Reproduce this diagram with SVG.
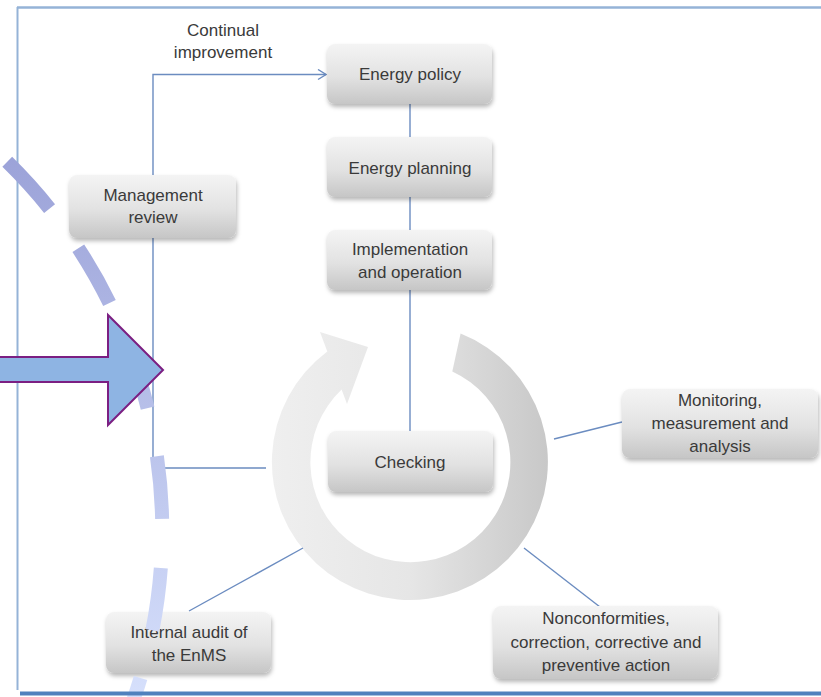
<svg xmlns="http://www.w3.org/2000/svg" width="821" height="697" viewBox="0 0 821 697">
<style>
.box{fill:url(#boxg);filter:url(#sh)}
.t{font-family:"Liberation Sans",Arial,sans-serif;font-size:17px;fill:#3a3a3a;text-anchor:middle}
.c{fill:none;stroke:#6b8cc0;stroke-width:1.4}
</style>
<defs>
<linearGradient id="boxg" x1="0" y1="0" x2="0" y2="1">
<stop offset="0" stop-color="#f4f4f4"/>
<stop offset="0.55" stop-color="#e2e2e2"/>
<stop offset="1" stop-color="#c6c6c6"/>
</linearGradient>
<linearGradient id="ringg" gradientUnits="userSpaceOnUse" x1="272" y1="0" x2="548" y2="0">
<stop offset="0" stop-color="#efefef"/>
<stop offset="0.5" stop-color="#e6e6e6"/>
<stop offset="1" stop-color="#c8c8c8"/>
</linearGradient>
<linearGradient id="dashg" gradientUnits="userSpaceOnUse" x1="0" y1="150" x2="0" y2="697">
<stop offset="0" stop-color="#9ba2d8"/>
<stop offset="1" stop-color="#d6e0fc"/>
</linearGradient>
<filter id="sh" x="-10%" y="-10%" width="125%" height="135%">
<feDropShadow dx="1" dy="3" stdDeviation="2" flood-color="#000" flood-opacity="0.28"/>
</filter>
<marker id="ah" markerWidth="10" markerHeight="12" refX="9" refY="6" orient="auto" markerUnits="userSpaceOnUse">
<polyline points="1,1 9,6 1,11" fill="none" stroke="#6b8cc0" stroke-width="1.4"/>
</marker>
</defs>

<g id="frame">
<line x1="17.5" y1="7" x2="17.5" y2="690" stroke="#95b3d7" stroke-width="2"/>
<line x1="17" y1="7.5" x2="821" y2="7.5" stroke="#95b3d7" stroke-width="2.5"/>
</g>

<g id="cycle">
<path d="M460.6 333.6 A138 138 0 1 1 327.3 351.4 L320 332 L368 347 L347 404 L341.6 389.6 A100 100 0 1 0 452.3 371.4 Z" fill="url(#ringg)"/>
</g>

<g id="connectors">
<path class="c" d="M153 175 V74.5 H326" marker-end="url(#ah)"/>
<path class="c" d="M153 238 V468 H266"/>
<path class="c" d="M410 104 V137"/>
<path class="c" d="M410 197 V230"/>
<path class="c" d="M410 290 V431"/>
<path class="c" d="M189 611 L303 548"/>
<path class="c" d="M554 439 L622 422"/>
<path class="c" d="M524 548 L600 607"/>
</g>

<text class="t" x="223" y="36">Continual</text>
<text class="t" x="223" y="58">improvement</text>

<g id="energy-policy">
<rect class="box" x="327" y="44" width="165" height="60" rx="8"/>
<text class="t" x="410" y="80">Energy policy</text>
</g>
<g id="energy-planning">
<rect class="box" x="327" y="137" width="165" height="60" rx="8"/>
<text class="t" x="410" y="174">Energy planning</text>
</g>
<g id="implementation">
<rect class="box" x="327" y="230" width="165" height="60" rx="8"/>
<text class="t" x="410" y="255">Implementation</text>
<text class="t" x="410" y="278">and operation</text>
</g>
<g id="checking">
<rect class="box" x="328" y="431" width="165" height="61" rx="8"/>
<text class="t" x="410" y="468">Checking</text>
</g>
<g id="management-review">
<rect class="box" x="69" y="175" width="167" height="63" rx="8"/>
<text class="t" x="153" y="201">Management</text>
<text class="t" x="153" y="223">review</text>
</g>
<g id="monitoring">
<rect class="box" x="622" y="389" width="196" height="69" rx="8"/>
<text class="t" x="720" y="406">Monitoring,</text>
<text class="t" x="720" y="429">measurement and</text>
<text class="t" x="720" y="452">analysis</text>
</g>
<g id="nonconformities">
<rect class="box" x="493" y="606" width="225" height="73" rx="8"/>
<text class="t" x="606" y="624">Nonconformities,</text>
<text class="t" x="606" y="648">correction, corrective and</text>
<text class="t" x="606" y="671">preventive action</text>
</g>
<g id="internal-audit">
<rect class="box" x="106" y="612" width="165" height="61" rx="8"/>
<text class="t" x="189" y="638">Internal audit of</text>
<text class="t" x="189" y="661">the EnMS</text>
</g>

<g id="dashed-arc">
<path d="M-80.6 92.8 A515 515 0 0 1 114 747.6" fill="none" stroke="url(#dashg)" stroke-width="14" stroke-dasharray="63 49"/>
</g>

<g id="bottom-rule">
<line x1="20" y1="693.5" x2="821" y2="693.5" stroke="#4f81bd" stroke-width="4"/>
</g>

<g id="big-arrow">
<path d="M-5 357 H108 V315 L163 370 L108 425 V382 H-5 Z" fill="#8eb4e3" stroke="#7b1f82" stroke-width="2"/>
</g>
</svg>
